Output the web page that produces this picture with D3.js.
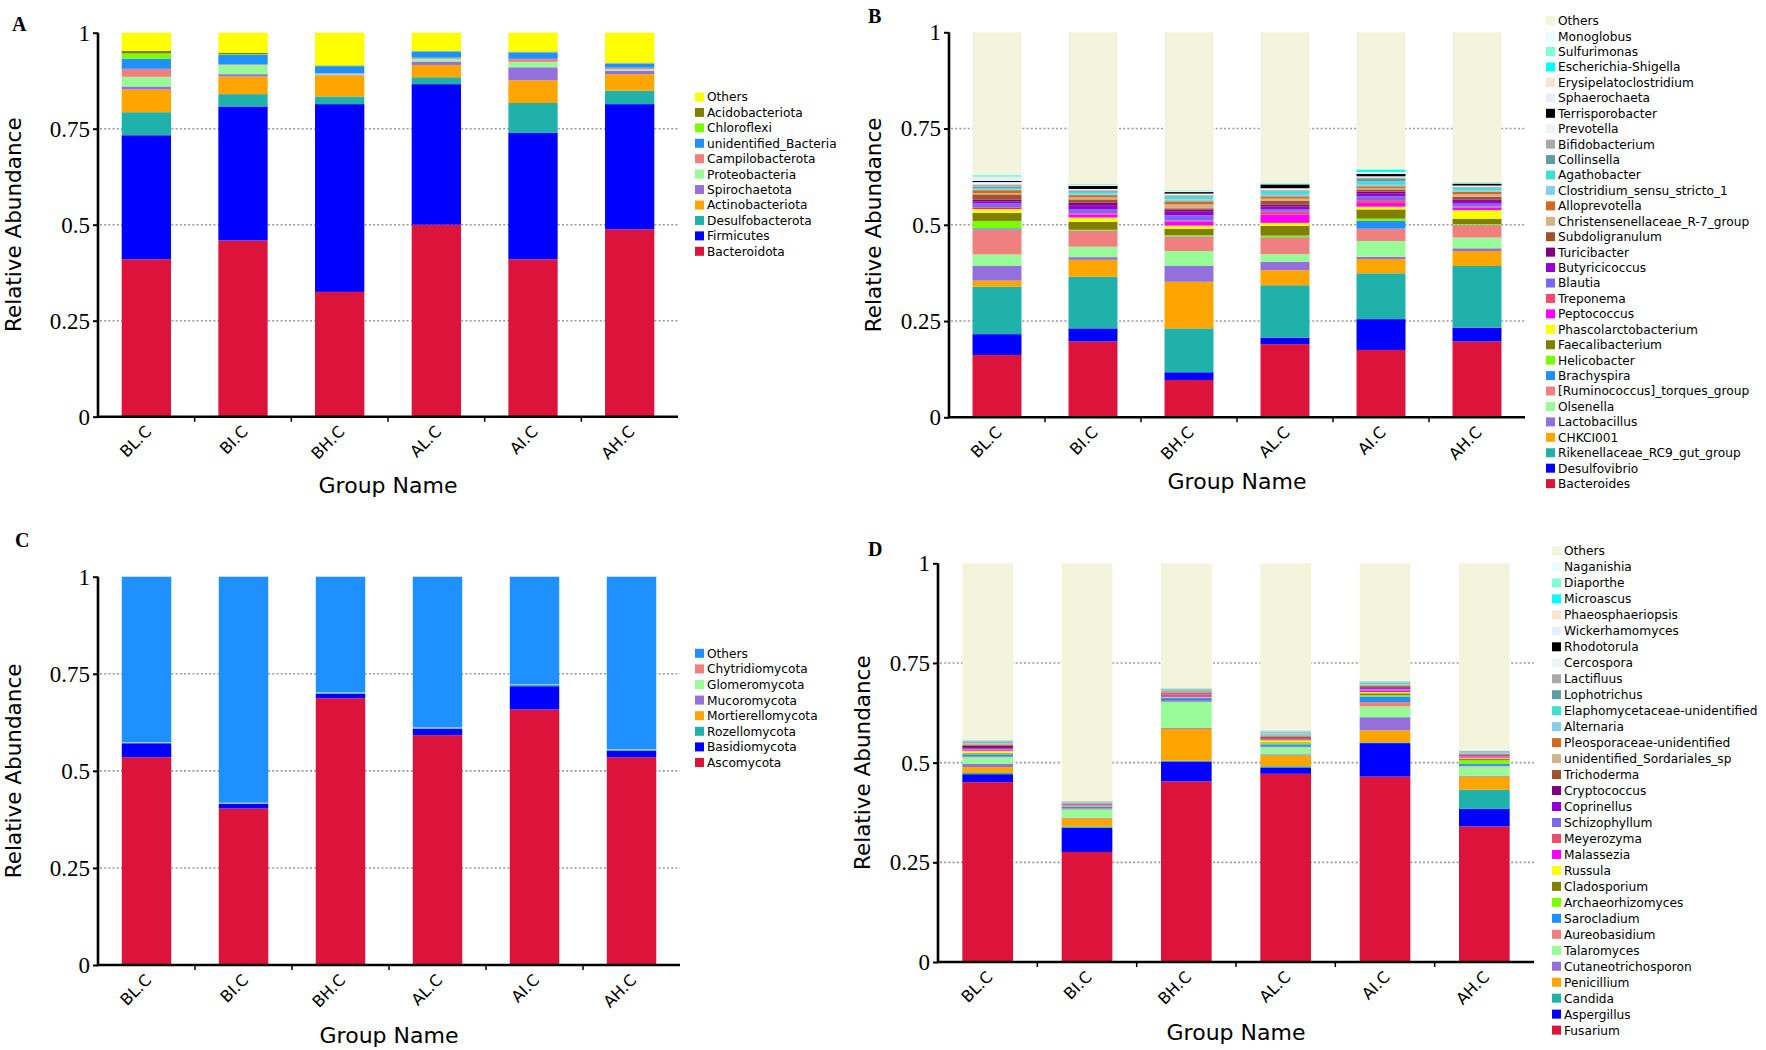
<!DOCTYPE html>
<html><head><meta charset="utf-8">
<script src="https://cdn.jsdelivr.net/npm/d3@7"></script>
<style>body{margin:0;background:#fff} svg{display:block}</style>
</head><body><svg id="c" width="1766" height="1050"></svg>
<script>
const groups = ["BL.C","BI.C","BH.C","AL.C","AI.C","AH.C"];
const yTicks = [0, 0.25, 0.5, 0.75, 1];
const palette = ["#DC143C","#0000FF","#20B2AA","#FFA500","#9370DB","#98FB98","#F08080","#1E90FF","#7CFC00","#808000",
  "#FFFF00","#FF00FF","#F04A6E","#7B68EE","#9400D3","#800080","#A0522D","#D2B48C","#D2691E","#87CEEB",
  "#40E0D0","#5F9EA0","#A9A9A9","#EAF4FC","#000000","#E6EFFA","#FBE3CF","#00FFFF","#7FFFD4","#E6FFFF","#F4F3DC"];

// Panel A: phylum, bacteria (bottom -> top)
const taxaA = ["Bacteroidota","Firmicutes","Desulfobacterota","Actinobacteriota","Spirochaetota","Proteobacteria",
  "Campilobacterota","unidentified_Bacteria","Chloroflexi","Acidobacteriota","Others"];
const valuesA = [
  [0.410,0.459,0.325,0.500,0.410,0.488],
  [0.323,0.349,0.489,0.366,0.329,0.326],
  [0.060,0.032,0.020,0.018,0.078,0.035],
  [0.059,0.046,0.055,0.032,0.059,0.043],
  [0.008,0.006,0.002,0.009,0.034,0.009],
  [0.025,0.024,0.002,0.007,0.014,0.004],
  [0.021,0.002,0.001,0.003,0.008,0.004],
  [0.026,0.024,0.019,0.016,0.017,0.011],
  [0.014,0.002,0.001,0.001,0.001,0.001],
  [0.007,0.004,0.001,0.001,0.001,0.001],
  [0.047,0.052,0.085,0.047,0.049,0.078]];

// Panel B: genus, bacteria
const taxaB = ["Bacteroides","Desulfovibrio","Rikenellaceae_RC9_gut_group","CHKCI001","Lactobacillus","Olsenella",
  "[Ruminococcus]_torques_group","Brachyspira","Helicobacter","Faecalibacterium","Phascolarctobacterium","Peptococcus",
  "Treponema","Blautia","Butyricicoccus","Turicibacter","Subdoligranulum","Christensenellaceae_R-7_group","Alloprevotella",
  "Clostridium_sensu_stricto_1","Agathobacter","Collinsella","Bifidobacterium","Prevotella","Terrisporobacter",
  "Sphaerochaeta","Erysipelatoclostridium","Escherichia-Shigella","Sulfurimonas","Monoglobus","Others"];
const valuesB = [
  [0.162,0.197,0.097,0.190,0.175,0.197],
  [0.054,0.034,0.020,0.017,0.080,0.036],
  [0.123,0.134,0.114,0.136,0.119,0.160],
  [0.016,0.044,0.121,0.039,0.037,0.039],
  [0.038,0.007,0.041,0.022,0.006,0.007],
  [0.030,0.027,0.039,0.020,0.041,0.028],
  [0.065,0.041,0.037,0.043,0.032,0.032],
  [0.003,0.001,0.001,0.001,0.020,0.001],
  [0.019,0.002,0.003,0.004,0.006,0.002],
  [0.021,0.021,0.017,0.025,0.024,0.014],
  [0.010,0.011,0.008,0.008,0.007,0.022],
  [0.003,0.008,0.011,0.022,0.010,0.007],
  [0.002,0.003,0.002,0.007,0.007,0.002],
  [0.010,0.010,0.014,0.006,0.010,0.008],
  [0.005,0.011,0.009,0.008,0.008,0.007],
  [0.004,0.006,0.005,0.004,0.004,0.004],
  [0.014,0.009,0.004,0.011,0.006,0.007],
  [0.003,0.005,0.010,0.005,0.003,0.006],
  [0.008,0.006,0.008,0.006,0.005,0.007],
  [0.002,0.004,0.005,0.006,0.006,0.004],
  [0.003,0.005,0.006,0.007,0.007,0.005],
  [0.004,0.002,0.002,0.002,0.006,0.002],
  [0.006,0.002,0.003,0.002,0.004,0.002],
  [0.006,0.003,0.004,0.004,0.003,0.003],
  [0.003,0.008,0.004,0.010,0.006,0.005],
  [0.008,0.002,0.002,0.002,0.004,0.001],
  [0.003,0.002,0.001,0.001,0.001,0.001],
  [0.001,0.001,0.001,0.001,0.006,0.001],
  [0.004,0.001,0.001,0.001,0.002,0.001],
  [0.002,0.001,0.001,0.001,0.001,0.001],
  [0.368,0.392,0.409,0.389,0.354,0.388]];

// Panel C: phylum, fungi
const taxaC = ["Ascomycota","Basidiomycota","Rozellomycota","Mortierellomycota","Mucoromycota","Glomeromycota",
  "Chytridiomycota","Others"];
const valuesC = [
  [0.535,0.403,0.687,0.592,0.658,0.535],
  [0.036,0.012,0.011,0.016,0.060,0.017],
  [0.001,0.001,0.002,0.002,0.003,0.002],
  [0.0005,0.0005,0.0005,0.0005,0.0005,0.0005],
  [0.0005,0.0005,0.0005,0.0005,0.0005,0.0005],
  [0.0005,0.0005,0.0005,0.0005,0.0005,0.0005],
  [0.0005,0.0005,0.0005,0.0005,0.0005,0.0005],
  [0.426,0.582,0.298,0.388,0.277,0.444]];

// Panel D: genus, fungi
const taxaD = ["Fusarium","Aspergillus","Candida","Penicillium","Cutaneotrichosporon","Talaromyces","Aureobasidium",
  "Sarocladium","Archaeorhizomyces","Cladosporium","Russula","Malassezia","Meyerozyma","Schizophyllum","Coprinellus",
  "Cryptococcus","Trichoderma","unidentified_Sordariales_sp","Pleosporaceae-unidentified","Alternaria",
  "Elaphomycetaceae-unidentified","Lophotrichus","Lactifluus","Cercospora","Rhodotorula","Wickerhamomyces",
  "Phaeosphaeriopsis","Microascus","Diaporthe","Naganishia","Others"];
const valuesD = [
  [0.451,0.276,0.453,0.472,0.465,0.340],
  [0.020,0.061,0.050,0.016,0.084,0.044],
  [0.003,0.003,0.002,0.003,0.002,0.048],
  [0.015,0.020,0.080,0.027,0.030,0.033],
  [0.008,0.002,0.002,0.003,0.033,0.002],
  [0.016,0.020,0.065,0.017,0.027,0.023],
  [0.002,0.003,0.003,0.002,0.011,0.002],
  [0.006,0.004,0.007,0.006,0.014,0.005],
  [0.002,0.001,0.001,0.003,0.003,0.009],
  [0.002,0.001,0.001,0.002,0.005,0.003],
  [0.004,0.001,0.001,0.005,0.003,0.002],
  [0.002,0.001,0.002,0.001,0.004,0.002],
  [0.002,0.001,0.004,0.002,0.002,0.003],
  [0.002,0.001,0.001,0.001,0.002,0.001],
  [0.002,0.0005,0.001,0.001,0.002,0.001],
  [0.005,0.0005,0.001,0.001,0.002,0.001],
  [0.002,0.001,0.002,0.004,0.003,0.002],
  [0.002,0.001,0.001,0.002,0.002,0.001],
  [0.001,0.001,0.002,0.001,0.001,0.001],
  [0.002,0.001,0.001,0.004,0.002,0.002],
  [0.001,0.0005,0.002,0.002,0.003,0.001],
  [0.002,0.0005,0.001,0.001,0.001,0.001],
  [0.002,0.0005,0.001,0.001,0.001,0.001],
  [0.001,0.0005,0.0005,0.002,0.0005,0.0005],
  [0.0005,0.0005,0.0005,0.0005,0.0005,0.0005],
  [0.0005,0.0005,0.0005,0.0005,0.0005,0.0005],
  [0.0005,0.0005,0.0005,0.0005,0.0005,0.0005],
  [0.0005,0.0005,0.0005,0.0005,0.0005,0.0005],
  [0.0005,0.0005,0.0005,0.0005,0.0005,0.0005],
  [0.001,0.001,0.0005,0.001,0.001,0.001],
  [0.4415,0.5945,0.3125,0.4175,0.294,0.468]];

const svg = d3.select("#c");
svg.append("rect").attr("width",1766).attr("height",1050).attr("fill","#fff");
const SANS = "'DejaVu Sans', sans-serif";
const SERIF = "'Liberation Serif', 'Times New Roman', serif";

function drawPanel(p) {
  const g = svg.append("g");
  const x = d3.scaleBand().domain(groups).range([p.x0, p.x1]).paddingInner(0.49).paddingOuter(0.245);
  const y = d3.scaleLinear().domain([0, 1]).range([p.yb, p.yt]);
  // grid
  g.selectAll("line.grid").data([0.25, 0.5, 0.75]).join("line")
    .attr("x1", p.x0 + 2).attr("x2", p.x1).attr("y1", d => y(d)).attr("y2", d => y(d))
    .attr("stroke", "#9a9a9a").attr("stroke-width", 1.6).attr("stroke-dasharray", "2,2.2");
  // stacks
  const rows = groups.map((grp, j) => {
    const o = {group: grp};
    p.taxa.forEach((t, i) => o[t] = p.values[i][j]);
    return o;
  });
  const series = d3.stack().keys(p.taxa)(rows);
  g.selectAll("g.s").data(series).join("g")
    .attr("fill", (d, i) => palette[i === p.taxa.length - 1 ? p.othersIdx : i])
    .selectAll("rect").data(d => d).join("rect")
    .attr("x", d => x(d.data.group)).attr("width", x.bandwidth())
    .attr("y", d => y(d[1])).attr("height", d => Math.max(0, y(d[0]) - y(d[1])));
  // axes
  const ya = d3.axisLeft(y).tickValues(yTicks).tickSize(5).tickFormat(d3.format(""));
  const yg = g.append("g").attr("transform", `translate(${p.x0},0)`).call(ya);
  yg.select(".domain").attr("stroke", "#000").attr("stroke-width", 2.6).attr("d", `M0,${p.yt}V${p.yb}`);
  yg.selectAll(".tick line").attr("stroke", "#000").attr("stroke-width", 2);
  yg.selectAll(".tick text").attr("font-family", SERIF).attr("font-size", 23).attr("fill", "#000").attr("x", -8);
  // x axis line
  g.append("line").attr("x1", p.x0 - 1).attr("x2", p.x1).attr("y1", p.yb).attr("y2", p.yb)
    .attr("stroke", "#000").attr("stroke-width", 2.6);
  const bounds = d3.range(1, groups.length + 1).map(i => p.x0 + x.step() * (i - 0.245 + 0.245) );
  g.selectAll("line.xt").data(d3.range(1, groups.length)).join("line")
    .attr("x1", i => p.x0 + x.step() * i).attr("x2", i => p.x0 + x.step() * i)
    .attr("y1", p.yb).attr("y2", p.yb + 5).attr("stroke", "#000").attr("stroke-width", 1.5);
  g.selectAll("text.xl").data(groups).join("text")
    .attr("transform", d => `translate(${x(d) + x.bandwidth() / 2 + 6},${p.yb + 16}) rotate(-45)`)
    .attr("text-anchor", "end").attr("font-family", SANS).attr("font-size", 16).text(d => d);
  // titles
  g.append("text").attr("transform", `translate(${p.ylx},${(p.yt + p.yb) / 2}) rotate(-90)`)
    .attr("text-anchor", "middle").attr("font-family", SANS).attr("font-size", 21.5).text("Relative Abundance");
  g.append("text").attr("x", (p.x0 + p.x1) / 2).attr("y", p.gny).attr("text-anchor", "middle")
    .attr("font-family", SANS).attr("font-size", 22).text("Group Name");
  g.append("text").attr("x", p.lx).attr("y", p.ly).attr("font-family", SERIF).attr("font-weight", "bold")
    .attr("font-size", 20).text(p.letter);
  // legend
  const items = p.taxa.map((t, i) => ({t, c: palette[i === p.taxa.length - 1 ? p.othersIdx : i]})).reverse();
  const lg = g.selectAll("g.lg").data(items).join("g")
    .attr("transform", (d, i) => `translate(${p.legX},${p.legY + i * p.legStep})`);
  lg.append("rect").attr("x", 0).attr("y", -4.5).attr("width", 9).attr("height", 9).attr("fill", d => d.c);
  lg.append("text").attr("x", 12).attr("y", 0).attr("dy", "0.36em").attr("font-family", SANS)
    .attr("font-size", 12.2).text(d => d.t);
}

drawPanel({letter: "A", taxa: taxaA, values: valuesA, othersIdx: 10, x0: 98, x1: 678, yt: 32.7, yb: 416.7,
  ylx: 21, gny: 493, lx: 12, ly: 31, legX: 695, legY: 97, legStep: 15.43});
drawPanel({letter: "B", taxa: taxaB, values: valuesB, othersIdx: 30, x0: 949, x1: 1525, yt: 32.3, yb: 417.3,
  ylx: 881, gny: 489, lx: 868, ly: 23, legX: 1546, legY: 20.7, legStep: 15.43});
drawPanel({letter: "C", taxa: taxaC, values: valuesC, othersIdx: 7, x0: 98, x1: 680, yt: 576.7, yb: 965,
  ylx: 21, gny: 1043, lx: 15, ly: 547, legX: 695, legY: 653.3, legStep: 15.6});
drawPanel({letter: "D", taxa: taxaD, values: valuesD, othersIdx: 30, x0: 938, x1: 1534, yt: 563.3, yb: 962,
  ylx: 870, gny: 1040, lx: 868, ly: 556, legX: 1552, legY: 551, legStep: 15.97});
</script></body></html>
